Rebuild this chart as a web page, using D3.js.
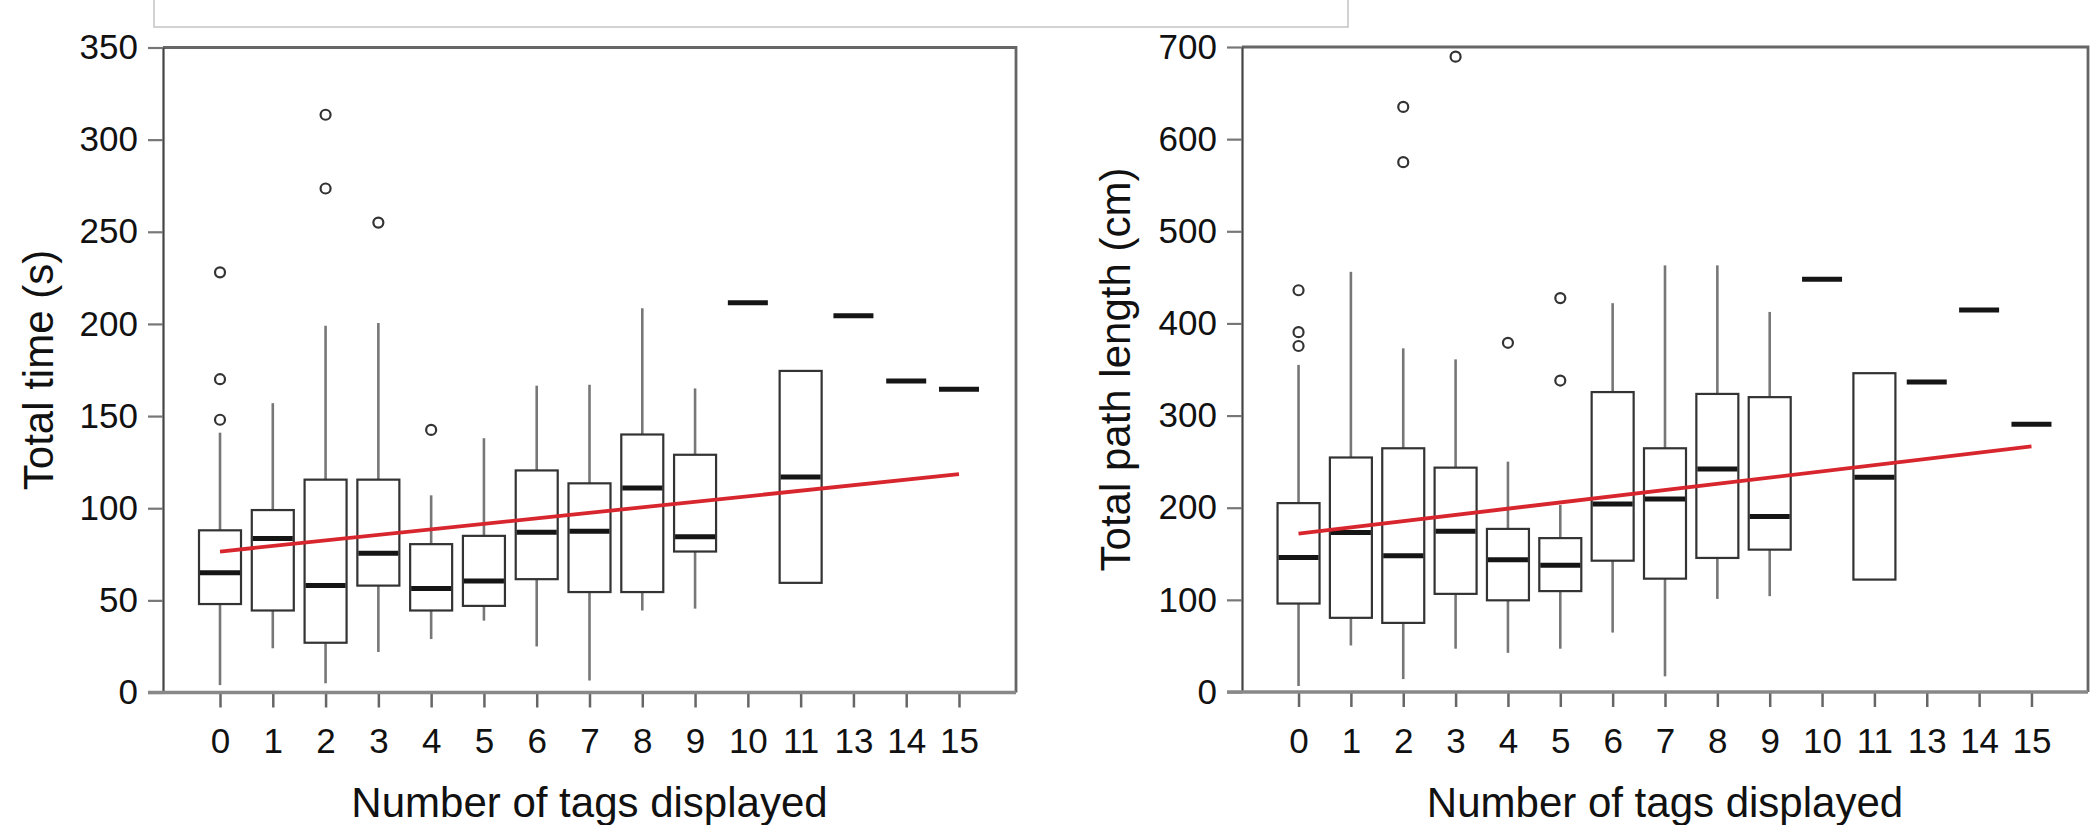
<!DOCTYPE html>
<html>
<head>
<meta charset="utf-8">
<script src="https://cdn.jsdelivr.net/npm/d3@7"></script>
<style>
  html, body { margin: 0; padding: 0; background: #fff; }
  svg { display: block; font-family: 'Liberation Sans', Arial, Helvetica, sans-serif; }
</style>
</head>
<body>
<script>
// categories on the x axis (12 is missing in the source)
const tagCounts = ['0', '1', '2', '3', '4', '5', '6', '7', '8', '9', '10', '11', '13', '14', '15']

// total time (s): whisker low, q1, median, q3, whisker high
const timeLow    = [4,   24,   5,     22,    29,   39,  25,    6.5,   44.5, 45.5, 211.5, 59.5,  204.5, 169, 164.5]
const timeQ1     = [48,  44.5, 27,    58,    44.5, 47,  61.5,  54.5,  54.5, 76.5, 211.5, 59.5,  204.5, 169, 164.5]
const timeMedian = [65,  83.5, 58,    75.5,  56.5, 60.5, 87,   87.5,  111,  84.5, 211.5, 117,   204.5, 169, 164.5]
const timeQ3     = [88,  99,   115.5, 115.5, 80.5, 85,  120.5, 113.5, 140,  129,  211.5, 174.5, 204.5, 169, 164.5]
const timeHigh   = [141, 157,  199,   200.5, 107,  138, 166.5, 167,   208.5, 165, 211.5, 174.5, 204.5, 169, 164.5]
const timeOutliers = [[148, 170, 228], [], [273.5, 313.5], [255], [142.5], [], [], [], [], [], [], [], [], [], []]
const timeTrend = [76.5, 118.5]   // fitted values at '0' and '15'

// total path length (cm)
const pathLow    = [6.5, 50.5,  14,    47,    42.5,  47,    64.5,  17,    101,   104,   448, 122, 336.5, 414.5, 290.5]
const pathQ1     = [96,  80.5,  75,    106.5, 99.5,  109.5, 142.5, 123,   145.5, 154.5, 448, 122, 336.5, 414.5, 290.5]
const pathMedian = [146, 173,   148,   174.5, 143.5, 137.5, 204,   209.5, 242,   190.5, 448, 233, 336.5, 414.5, 290.5]
const pathQ3     = [205, 254.5, 264.5, 243.5, 177,   167,   325.5, 264.5, 323.5, 320,   448, 346, 336.5, 414.5, 290.5]
const pathHigh   = [355, 456,   373,   361,   250,   203,   422,   463,   463,   412.5, 448, 346, 336.5, 414.5, 290.5]
const pathOutliers = [[375.5, 390.5, 436], [], [575, 635], [689.5], [379], [338, 427.5], [], [], [], [], [], [], [], [], []]
const pathTrend = [172, 266.5]

const W = 2090, H = 825

const svg = d3.select('body').append('svg')
  .attr('width', W)
  .attr('height', H)

// remnant of a frame cut off at the top
svg.append('rect')
  .attr('x', 154).attr('y', -20)
  .attr('width', 1194).attr('height', 47)
  .attr('fill', 'none')
  .attr('stroke', '#c4c4c4')
  .attr('stroke-width', 1.5)

function panel (o) {
  let x = d3.scalePoint().domain(tagCounts).range([o.left, o.right]).padding(1.08)
  let y = d3.scaleLinear().domain([0, o.max]).range([o.bottom, o.top])
  let bw = 42

  let g = svg.append('g')

  // frame
  g.append('path')
    .attr('d', `M${o.left},${o.top}H${o.right}V${o.bottom}`)
    .attr('fill', 'none')
    .attr('stroke', '#666')
    .attr('stroke-width', 2.8)

  // y axis
  let yAxis = g.append('g')
    .attr('transform', `translate(${o.left},0)`)
    .call(d3.axisLeft(y).tickValues(d3.range(0, o.max + 1, o.step)).tickSize(15).tickSizeOuter(0).tickPadding(10))
  yAxis.select('.domain').attr('stroke', '#444').attr('stroke-width', 2.2)
  yAxis.selectAll('.tick line').attr('stroke', '#777').attr('stroke-width', 2.2)
  yAxis.selectAll('text').attr('font-size', 35).attr('fill', '#111').attr('font-family', null)

  // x axis
  let xAxis = g.append('g')
    .attr('transform', `translate(0,${o.bottom})`)
    .call(d3.axisBottom(x).tickSize(15).tickSizeOuter(0).tickPadding(21))
  xAxis.select('.domain').remove()
  xAxis.selectAll('.tick line').attr('stroke', '#666').attr('stroke-width', 2.5)
  xAxis.selectAll('text').attr('font-size', 35).attr('fill', '#111').attr('font-family', null)

  g.append('line')
    .attr('x1', o.left - 15).attr('x2', o.right)
    .attr('y1', o.bottom).attr('y2', o.bottom)
    .attr('stroke', '#888')
    .attr('stroke-width', 3.5)

  let rows = tagCounts.map((k, i) => ({
    k, low: o.low[i], q1: o.q1[i], med: o.median[i], q3: o.q3[i], high: o.high[i], out: o.outliers[i]
  }))

  let box = g.selectAll('.box').data(rows).enter().append('g').classed('box', true)

  // whiskers
  box.filter(d => d.low < d.q1)
    .append('line')
    .attr('x1', d => x(d.k)).attr('x2', d => x(d.k))
    .attr('y1', d => y(d.low)).attr('y2', d => y(d.q1))
    .attr('stroke', '#777').attr('stroke-width', 2.6)
  box.filter(d => d.high > d.q3)
    .append('line')
    .attr('x1', d => x(d.k)).attr('x2', d => x(d.k))
    .attr('y1', d => y(d.q3)).attr('y2', d => y(d.high))
    .attr('stroke', '#777').attr('stroke-width', 2.6)

  box.filter(d => d.q3 > d.q1)
    .append('rect')
    .attr('x', d => x(d.k) - bw / 2)
    .attr('y', d => y(d.q3))
    .attr('width', bw)
    .attr('height', d => y(d.q1) - y(d.q3))
    .attr('fill', 'none')
    .attr('stroke', '#333')
    .attr('stroke-width', 2.2)

  // medians (single observations show as just this bar)
  box.append('line')
    .attr('x1', d => x(d.k) - bw / 2 + 1).attr('x2', d => x(d.k) + bw / 2 - 1)
    .attr('y1', d => y(d.med)).attr('y2', d => y(d.med))
    .attr('stroke', '#151515')
    .attr('stroke-width', 5)

  box.selectAll('circle')
    .data(d => d.out.map(v => ({ k: d.k, v })))
    .enter().append('circle')
    .attr('cx', d => x(d.k))
    .attr('cy', d => y(d.v))
    .attr('r', 5)
    .attr('fill', 'none')
    .attr('stroke', '#333')
    .attr('stroke-width', 2.2)

  // linear fit
  g.append('path')
    .datum([[tagCounts[0], o.trend[0]], [tagCounts[tagCounts.length - 1], o.trend[1]]])
    .attr('d', d3.line().x(d => x(d[0])).y(d => y(d[1])))
    .attr('stroke', '#d8262e')
    .attr('stroke-width', 3.8)
    .attr('fill', 'none')

  // titles
  g.append('text')
    .attr('x', (o.left + o.right) / 2)
    .attr('y', 817)
    .attr('text-anchor', 'middle')
    .attr('font-size', 42)
    .attr('fill', '#111')
    .text('Number of tags displayed')

  g.append('text')
    .attr('transform', `translate(${o.titleX},${(o.top + o.bottom) / 2}) rotate(-90)`)
    .attr('text-anchor', 'middle')
    .attr('font-size', 42)
    .attr('fill', '#111')
    .text(o.title)
}

panel({
  left: 163, right: 1016, top: 47.5, bottom: 692.5,
  max: 350, step: 50, titleX: 53, title: 'Total time (s)',
  low: timeLow, q1: timeQ1, median: timeMedian, q3: timeQ3, high: timeHigh,
  outliers: timeOutliers, trend: timeTrend
})

panel({
  left: 1242, right: 2088, top: 47, bottom: 692,
  max: 700, step: 100, titleX: 1130, title: 'Total path length (cm)',
  low: pathLow, q1: pathQ1, median: pathMedian, q3: pathQ3, high: pathHigh,
  outliers: pathOutliers, trend: pathTrend
})
</script>
</body>
</html>
